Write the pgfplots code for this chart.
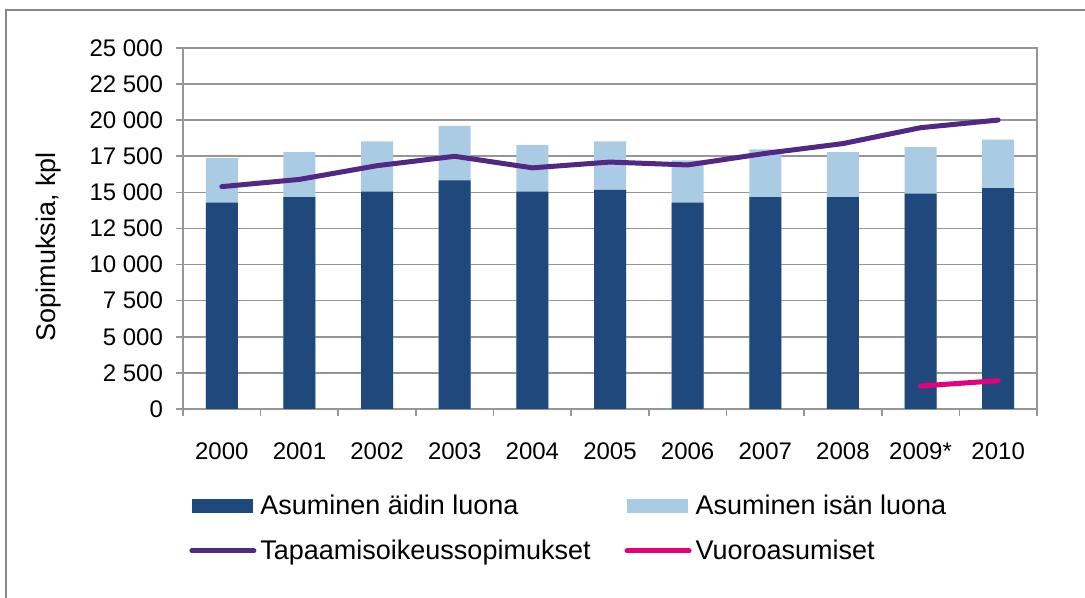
\documentclass[border=0pt]{standalone}
\usepackage{fontspec}
\setmainfont{Liberation Sans}
\usepackage{pgfplots}
\pgfplotsset{compat=1.18}
\usepackage{pgfplotstable}

\definecolor{darkbar}{RGB}{31,73,125}
\definecolor{lightbar}{RGB}{169,204,228}
\definecolor{tapaam}{RGB}{82,40,132}
\definecolor{vuoro}{RGB}{228,0,124}
\definecolor{gridgray}{RGB}{150,150,150}
\definecolor{framegray}{RGB}{136,136,136}

% x: 0 = 2000 ... 10 = 2010
\pgfplotstableread{
x  dark   light  tapaam
0  14290  3090   15400
1  14680  3100   15900
2  15050  3490   16850
3  15840  3760   17500
4  15050  3230   16700
5  15170  3370   17100
6  14290  2930   16900
7  14680  3300   17700
8  14680  3100   18380
9  14910  3230   19480
10 15300  3350   20010
}\sopimukset

\pgfplotstableread{
x  vuoro
9  1590
10 1960
}\vuoroasumiset

\begin{document}
\begin{tikzpicture}
\useasboundingbox (0pt,0pt) rectangle (542.5pt,299pt);
\draw[framegray, line width=1pt] (3pt,-10pt) -- (3pt,294pt) -- (560pt,294pt);

\begin{axis}[
  at={(91.5pt,94.5pt)}, anchor=south west,
  scale only axis,
  width=427pt, height=180.5pt,
  xmin=-0.5, xmax=10.5,
  ymin=0, ymax=25000,
  xtick={0,...,10},
  xticklabels={2000,2001,2002,2003,2004,2005,2006,2007,2008,2009*,2010},
  minor xtick={-0.5,0.5,...,10.5},
  ytick={0,2500,...,25000},
  scaled y ticks=false,
  tick pos=left,
  tick align=outside,
  major tick length=3.5pt,
  minor tick length=3.5pt,
  x tick style={draw=none},
  minor x tick style={draw=gridgray, line width=0.8pt},
  y tick style={draw=gridgray, line width=0.8pt},
  ymajorgrids=true,
  grid style={gridgray, line width=0.8pt},
  axis line style={gridgray, line width=0.8pt},
  /pgf/number format/.cd, fixed, 1000 sep={\ }, assume math mode=true,
  /pgfplots/.cd,
  ticklabel style={font=\fontsize{12}{14}\selectfont},
  yticklabel style={xshift=-3pt},
  xticklabel style={yshift=-10pt},
  ylabel={Sopimuksia, kpl},
  ylabel style={font=\fontsize{13.5}{16}\selectfont, at={(axis description cs:-0.157,0.45)}, anchor=center},
  legend columns=2,
  legend cell align=left,
  legend style={
    at={(axis description cs:0.0,-0.215)}, anchor=north west,
    draw=none, fill=none,
    font=\fontsize{13.5}{16}\selectfont,
    row sep=7pt,
    /tikz/every even column/.append style={column sep=15pt},
  },
]
\addplot[ybar, bar width=16pt, bar shift=0pt, fill=lightbar, draw=none, forget plot]
  table[x=x, y expr=\thisrow{dark}+\thisrow{light}] {\sopimukset};
\addplot[ybar, bar width=16pt, bar shift=0pt, fill=darkbar, draw=none, forget plot]
  table[x=x, y=dark] {\sopimukset};

\addlegendimage{legend image code/.code={\fill[darkbar] (0pt,-3.25pt) rectangle (30pt,3.25pt);}}
\addlegendentry{Asuminen äidin luona}
\addlegendimage{legend image code/.code={\fill[lightbar] (0pt,-3.25pt) rectangle (30pt,3.25pt);}}
\addlegendentry{Asuminen isän luona}

\addplot[tapaam, line width=2.5pt, line cap=round, line join=round, no markers,
  legend image code/.code={\draw[tapaam, line width=2.5pt, line cap=round] (0pt,0pt) -- (31pt,0pt);}]
  table[x=x, y=tapaam] {\sopimukset};
\addlegendentry{Tapaamisoikeussopimukset}
\addplot[vuoro, line width=2.5pt, line cap=round, no markers,
  legend image code/.code={\draw[vuoro, line width=2.5pt, line cap=round] (0pt,0pt) -- (31pt,0pt);}]
  table[x=x, y=vuoro] {\vuoroasumiset};
\addlegendentry{Vuoroasumiset}

\draw[gridgray, line width=0.8pt] (axis cs:10.5,0) -- ++(0pt,-10pt);
\end{axis}
\end{tikzpicture}
\end{document}
